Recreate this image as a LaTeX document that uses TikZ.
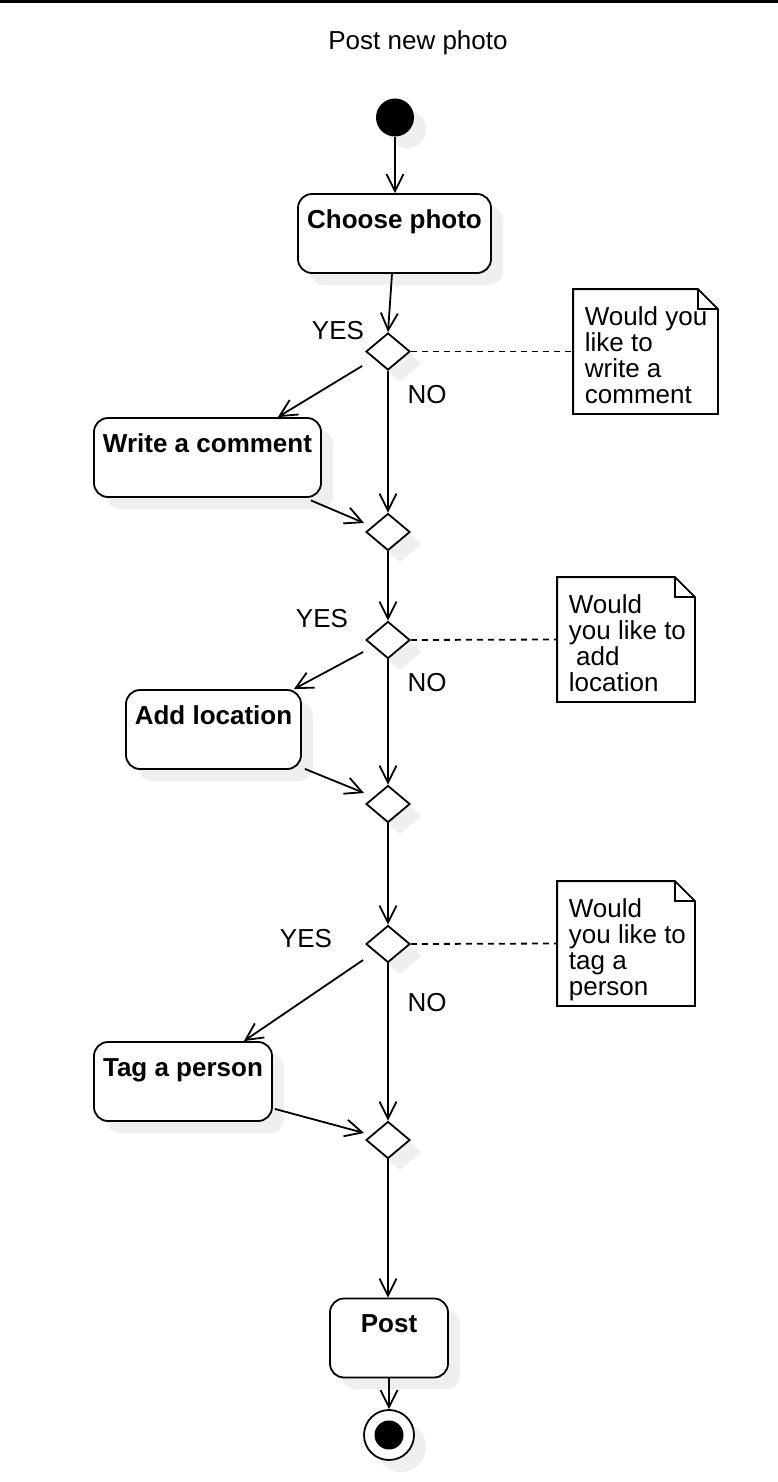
\documentclass[tikz,border=0pt]{standalone}
\usepackage{fontspec}
\setmainfont{Liberation Sans}
\usetikzlibrary{arrows.meta,shapes.geometric,shadows}
\definecolor{shadowgray}{HTML}{EFEFEF}

\begin{document}
\begin{tikzpicture}[x=1pt, y=-1pt, line width=1.8pt, >={Straight Barb[length=17pt,width=17pt]},
 txt/.style={font=\fontsize{26}{26}\selectfont},
 shade/.style={drop shadow={shadow xshift=12pt, shadow yshift=-12pt, fill=shadowgray, opacity=1}},
 action/.style={draw, fill=white, rounded corners=14pt, shade, inner xsep=0pt, inner ysep=6pt,
  text height=28pt, text depth=39pt, font=\bfseries\fontsize{26}{26}\selectfont, minimum width=#1},
 decision/.style={diamond, draw, fill=white, shade, minimum width=44pt, minimum height=37pt, inner sep=0pt},
 startdot/.style={circle, fill=black, shade, minimum size=38pt, inner sep=0pt},
 enddot/.style={circle, draw, fill=white, shade, minimum size=50pt, inner sep=0pt,
  path picture={\fill[black] (path picture bounding box.center) circle (14.5pt);}},
 note/.style={rectangle, inner sep=0pt, minimum width=#1, minimum height=123pt},
 notetext/.style={txt, align=left, anchor=north west, inner sep=0pt},
 link/.style={dash pattern=on 6pt off 5pt}]
 \useasboundingbox (0,0) rectangle (778,1482);
 \fill (0,0) rectangle (778,3);
 \node (title) [txt] at (418,43) {Post new photo};

 \begin {scope}
  \node (start) [startdot] at (395,117.5) {};
  \node (choose) [action=193pt] at (394.5,233.5) {Choose photo};
  \node (d1) [decision] at (388,351.5) {};
  \node (write) [action=227pt] at (207.5,457.5) {Write a comment};
  \node (d2) [decision] at (388,532) {};
  \node (d3) [decision] at (388,640) {};
  \node (add) [action=175pt] at (213.5,729.5) {Add location};
  \node (d4) [decision] at (388,804) {};
  \node (d5) [decision] at (388,944) {};
  \node (tag) [action=178pt] at (183,1081.5) {Tag a person};
  \node (d6) [decision] at (388,1140) {};
  \node (post) [action=118pt] at (389,1338) {Post};
  \node (finish) [enddot] at (389,1435) {};
 \end {scope}

 \node (yes1) [txt] at (338,331) {YES};
 \node (no1) [txt] at (427,395) {NO};
 \node (yes2) [txt] at (322,619) {YES};
 \node (no2) [txt] at (427,683) {NO};
 \node (yes3) [txt] at (306,939) {YES};
 \node (no3) [txt] at (427,1003) {NO};

 \node (note1) [note=143pt] at (645.5,351.5) {};
 \node (note2) [note=136pt] at (626,639.5) {};
 \node (note3) [note=136pt] at (626,943.5) {};
 \node (text1) [notetext] at (584,305.5) {Would you\\like to\\write a\\comment};
 \node (text2) [notetext] at (568,593.5) {Would\\you like to\\\ add\\location};
 \node (text3) [notetext] at (568,897.5) {Would\\you like to\\tag a\\person};
 \draw (note1.north west) -- ([xshift=-20pt]note1.north east) -- ([yshift=-20pt]note1.north east) -- (note1.south east) -- (note1.south west) -- cycle;
 \draw ([xshift=-20pt]note1.north east) |- ([yshift=-20pt]note1.north east);
 \draw (note2.north west) -- ([xshift=-20pt]note2.north east) -- ([yshift=-20pt]note2.north east) -- (note2.south east) -- (note2.south west) -- cycle;
 \draw ([xshift=-20pt]note2.north east) |- ([yshift=-20pt]note2.north east);
 \draw (note3.north west) -- ([xshift=-20pt]note3.north east) -- ([yshift=-20pt]note3.north east) -- (note3.south east) -- (note3.south west) -- cycle;
 \draw ([xshift=-20pt]note3.north east) |- ([yshift=-20pt]note3.north east);
 \draw [link] (d1.east) -- (note1.west);
 \draw [link] (d3.east) -- (note2.west);
 \draw [link] (d5.east) -- (note3.west);

 \draw [->] (start.south) -- (start.south |- choose.north);
 \draw [->] ([xshift=-2.5pt]choose.south) -- (d1.north);
 \draw [->] ([xshift=-3pt,yshift=-14.5pt]d1.west) -- ([xshift=-44pt]write.north east);
 \draw [->] (d1.south) -- (d2.north);
 \draw [->] ([xshift=-11pt,yshift=-2.5pt]write.south east) -- ([xshift=-1pt,yshift=9pt]d2.west);
 \draw [->] (d2.south) -- (d3.north);
 \draw [->] ([xshift=-2pt,yshift=-12pt]d3.west) -- ([xshift=-8pt]add.north east);
 \draw [->] (d3.south) -- (d4.north);
 \draw [->] ([xshift=3pt,yshift=1pt]add.south east) -- ([xshift=-1pt,yshift=11pt]d4.west);
 \draw [->] (d4.south) -- (d5.north);
 \draw [->] ([xshift=-2pt,yshift=-16pt]d5.west) -- ([xshift=-29pt]tag.north east);
 \draw [->] (d5.south) -- (d6.north);
 \draw [->] ([xshift=2pt,yshift=13pt]tag.south east) -- ([xshift=-1pt,yshift=7pt]d6.west);
 \draw [->] (d6.south) -- (d6.south |- post.north);
 \draw [->] (post.south) -- (finish.north);
\end{tikzpicture}
\end{document}
